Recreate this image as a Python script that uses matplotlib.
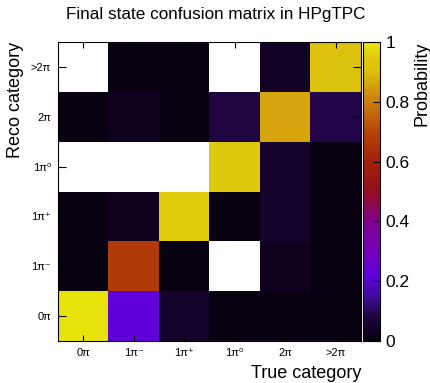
import numpy as np
import matplotlib
matplotlib.use('Agg')
import matplotlib.pyplot as plt
from matplotlib.colors import LinearSegmentedColormap

plt.rcParams['font.family'] = ['Liberation Sans', 'DejaVu Sans']

# categorias (true = colunas, reco = linhas, de baixo para cima)
categorias = ['0π', '1π⁻', '1π⁺', '1π⁰', '2π', '>2π']

# probabilidades; nan = bin vazio (branco)
nan = np.nan
linha_0pi = [0.99, 0.23, 0.05, 0.01, 0.01, 0.01]
linha_1pim = [0.01, 0.67, 0.01, nan, 0.03, 0.01]
linha_1pip = [0.01, 0.03, 0.95, 0.01, 0.05, 0.01]
linha_1pi0 = [nan, nan, nan, 0.94, 0.05, 0.01]
linha_2pi = [0.01, 0.03, 0.01, 0.08, 0.86, 0.09]
linha_mais2pi = [nan, 0.01, 0.01, nan, 0.04, 0.91]

matriz = np.array([linha_0pi, linha_1pim, linha_1pip, linha_1pi0, linha_2pi, linha_mais2pi])

# paleta parecida com a do ROOT
cores = [(0.00, (0.02, 0.00, 0.05)),
         (0.08, (0.12, 0.02, 0.25)),
         (0.15, (0.25, 0.05, 0.62)),
         (0.22, (0.37, 0.00, 0.86)),
         (0.30, (0.45, 0.00, 0.72)),
         (0.40, (0.50, 0.00, 0.55)),
         (0.50, (0.58, 0.05, 0.12)),
         (0.60, (0.63, 0.13, 0.04)),
         (0.70, (0.71, 0.27, 0.03)),
         (0.80, (0.79, 0.49, 0.06)),
         (0.86, (0.84, 0.64, 0.05)),
         (0.90, (0.86, 0.75, 0.05)),
         (0.95, (0.88, 0.79, 0.05)),
         (1.00, (0.91, 0.91, 0.04))]
paleta = LinearSegmentedColormap.from_list('root', cores, N=255)

fig = plt.figure(figsize=(4.31, 3.83), dpi=100)
ax = fig.add_axes([58/431, 1-341/383, (361-58)/431, (341-42)/383])
cax = fig.add_axes([363/431, 1-341/383, (380-363)/431, (341-42)/383])

dados = np.ma.masked_invalid(matriz)
malha = ax.pcolormesh(np.arange(7), np.arange(7), dados, cmap=paleta, vmin=0, vmax=1)

ax.set_xlim(0, 6)
ax.set_ylim(0, 6)
ax.set_xticks(np.arange(6) + 0.5)
ax.set_yticks(np.arange(6) + 0.5)
ax.set_xticklabels(categorias, fontsize=8)
ax.set_yticklabels(categorias, fontsize=8)
ax.tick_params(axis='x', direction='in', top=True, length=4.5, width=0.8, pad=5)
ax.tick_params(axis='y', direction='in', right=True, length=6, width=0.8, pad=5)

# titulo centrado no canvas, como no ROOT
fig.text(0.5, 1 - 15/383, 'Final state confusion matrix in HPgTPC', fontsize=12.3,
         ha='center', va='center')
ax.set_xlabel('True category', fontsize=13, loc='right', labelpad=5)
ax.set_ylabel('Reco category', fontsize=13, loc='top', labelpad=5)

cb = fig.colorbar(malha, cax=cax)
cb.set_ticks([0, 0.2, 0.4, 0.6, 0.8, 1])
cb.set_ticklabels(['0', '0.2', '0.4', '0.6', '0.8', '1'])
cb.outline.set_linewidth(0.8)
cax.tick_params(direction='in', length=5, width=0.8, labelsize=12.5, pad=4)
cb.set_label('Probability', fontsize=13, loc='top', labelpad=3)

fig.savefig('out.png', dpi=100)
